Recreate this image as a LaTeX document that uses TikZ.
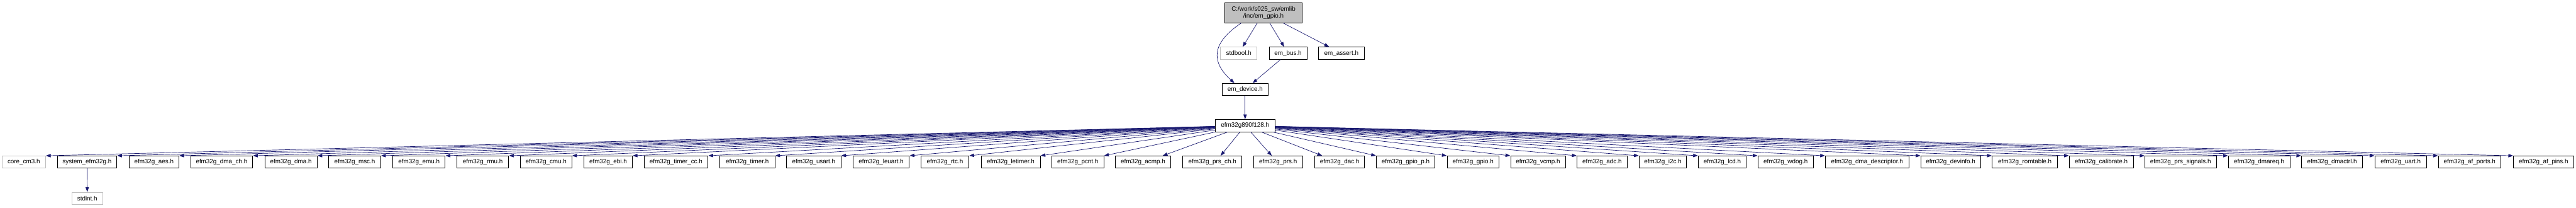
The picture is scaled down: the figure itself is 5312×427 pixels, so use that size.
\documentclass[tikz,border=0pt]{standalone}
\usepackage{fontspec}
\setmainfont{Liberation Sans}
\usepackage{tikz}
\usetikzlibrary{arrows.meta}
\definecolor{edgeblue}{RGB}{25,25,112}
\definecolor{boxgray}{RGB}{191,191,191}

\begin{document}
\begin{tikzpicture}[x=1pt, y=-1pt,
	file/.style={rectangle, draw=black, line width=1pt, inner sep=0pt, minimum height=25pt, font=\fontsize{12.8}{15}\selectfont},
	sysfile/.style={file, draw=boxgray},
	mainfile/.style={file, fill=boxgray, minimum height=41pt, align=center},
	edge/.style={draw=edgeblue, line width=0.9pt, -{Triangle[length=10pt,width=7pt]}}]

	\useasboundingbox (0,0) rectangle (5312,427);

	% vertices
	\node[mainfile, minimum width=159pt] (gpio) at (2605.5,26.5) {C:/work/s025\_sw/emlib\\/inc/em\_gpio.h};
	\node[sysfile, minimum width=75pt] (stdbool) at (2554.5,109.5) {stdbool.h};
	\node[file, minimum width=78pt] (embus) at (2656,109.5) {em\_bus.h};
	\node[file, minimum width=94pt] (emassert) at (2766,109.5) {em\_assert.h};
	\node[file, minimum width=95pt] (emdevice) at (2567.5,184) {em\_device.h};
	\node[file, minimum width=123pt] (hub) at (2567.5,258.5) {efm32g890f128.h};

	\node[sysfile, minimum width=90pt] (corecm) at (49,333.5) {core\_cm3.h};
	\node[file, minimum width=123pt] (system) at (179.5,333.5) {system\_efm32g.h};
	\node[sysfile, minimum width=64pt] (stdint) at (180,408) {stdint.h};
	\node[file, minimum width=103pt] (aes) at (317.5,333.5) {efm32g\_aes.h};
	\node[file, minimum width=128pt] (dmach) at (457,333.5) {efm32g\_dma\_ch.h};
	\node[file, minimum width=108pt] (dma) at (600,333.5) {efm32g\_dma.h};
	\node[file, minimum width=107pt] (msc) at (731.5,333.5) {efm32g\_msc.h};
	\node[file, minimum width=108pt] (emu) at (864,333.5) {efm32g\_emu.h};
	\node[file, minimum width=107pt] (rmu) at (995.5,333.5) {efm32g\_rmu.h};
	\node[file, minimum width=106pt] (cmu) at (1126,333.5) {efm32g\_cmu.h};
	\node[file, minimum width=100pt] (ebi) at (1254,333.5) {efm32g\_ebi.h};
	\node[file, minimum width=132pt] (timercc) at (1394,333.5) {efm32g\_timer\_cc.h};
	\node[file, minimum width=114pt] (timer) at (1541,333.5) {efm32g\_timer.h};
	\node[file, minimum width=112pt] (usart) at (1678,333.5) {efm32g\_usart.h};
	\node[file, minimum width=116pt] (leuart) at (1817,333.5) {efm32g\_leuart.h};
	\node[file, minimum width=99pt] (rtc) at (1948.5,333.5) {efm32g\_rtc.h};
	\node[file, minimum width=122pt] (letimer) at (2084,333.5) {efm32g\_letimer.h};
	\node[file, minimum width=107pt] (pcnt) at (2222.5,333.5) {efm32g\_pcnt.h};
	\node[file, minimum width=114pt] (acmp) at (2357,333.5) {efm32g\_acmp.h};
	\node[file, minimum width=122pt] (prsch) at (2500,333.5) {efm32g\_prs\_ch.h};
	\node[file, minimum width=101pt] (prs) at (2635.5,333.5) {efm32g\_prs.h};
	\node[file, minimum width=103pt] (dac) at (2762.5,333.5) {efm32g\_dac.h};
	\node[file, minimum width=121pt] (gpiop) at (2898.5,333.5) {efm32g\_gpio\_p.h};
	\node[file, minimum width=107pt] (gpioh) at (3037.5,333.5) {efm32g\_gpio.h};
	\node[file, minimum width=113pt] (vcmp) at (3171.5,333.5) {efm32g\_vcmp.h};
	\node[file, minimum width=103pt] (adc) at (3303.5,333.5) {efm32g\_adc.h};
	\node[file, minimum width=98pt] (itwoc) at (3429,333.5) {efm32g\_i2c.h};
	\node[file, minimum width=99pt] (lcd) at (3551.5,333.5) {efm32g\_lcd.h};
	\node[file, minimum width=114pt] (wdog) at (3682,333.5) {efm32g\_wdog.h};
	\node[file, minimum width=172pt] (dmadesc) at (3850,333.5) {efm32g\_dma\_descriptor.h};
	\node[file, minimum width=123pt] (devinfo) at (4022.5,333.5) {efm32g\_devinfo.h};
	\node[file, minimum width=135pt] (romtable) at (4175.5,333.5) {efm32g\_romtable.h};
	\node[file, minimum width=132pt] (calibrate) at (4333,333.5) {efm32g\_calibrate.h};
	\node[file, minimum width=147pt] (prssig) at (4496.5,333.5) {efm32g\_prs\_signals.h};
	\node[file, minimum width=127pt] (dmareq) at (4658.5,333.5) {efm32g\_dmareq.h};
	\node[file, minimum width=126pt] (dmactrl) at (4809,333.5) {efm32g\_dmactrl.h};
	\node[file, minimum width=107pt] (uart) at (4950.5,333.5) {efm32g\_uart.h};
	\node[file, minimum width=129pt] (afports) at (5092.5,333.5) {efm32g\_af\_ports.h};
	\node[file, minimum width=124pt] (afpins) at (5245,333.5) {efm32g\_af\_pins.h};

	% arrows
	\draw[edge] ([xshift=-46pt]gpio.south) .. controls +(-60,40) and +(-50,-45) .. ([xshift=-22pt]emdevice.north);
	\draw[edge] (gpio) -- (stdbool);
	\draw[edge] (gpio) -- (embus);
	\draw[edge] (gpio) -- (emassert);
	\draw[edge] (embus) -- (emdevice);
	\draw[edge] (emdevice) -- (hub);
	\draw[edge] (system) -- (stdint);

	\draw[edge] (hub) -- (corecm.north east);
	\draw[edge] (hub) -- (system.north east);
	\draw[edge] (hub) -- (aes.north east);
	\draw[edge] (hub) -- (dmach.north east);
	\draw[edge] (hub) -- (dma.north east);
	\draw[edge] (hub) -- (msc.north east);
	\draw[edge] (hub) -- (emu.north east);
	\draw[edge] (hub) -- (rmu.north east);
	\draw[edge] (hub) -- (cmu.north east);
	\draw[edge] (hub) -- (ebi.north east);
	\draw[edge] (hub) -- (timercc.north east);
	\draw[edge] (hub) -- (timer.north east);
	\draw[edge] (hub) -- (usart.north east);
	\draw[edge] (hub) -- (leuart.north east);
	\draw[edge] (hub) -- (rtc.north east);
	\draw[edge] (hub) -- (letimer.north east);
	\draw[edge] (hub) -- (pcnt.north east);
	\draw[edge] (hub) -- ([xshift=-17pt]acmp.north east);
	\draw[edge] (hub) -- ([xshift=17pt]prsch.north);
	\draw[edge] (hub) -- ([xshift=-13pt]prs.north);
	\draw[edge] (hub) -- ([xshift=16pt]dac.north west);
	\draw[edge] (hub) -- (gpiop.north west);
	\draw[edge] (hub) -- (gpioh.north west);
	\draw[edge] (hub) -- (vcmp.north west);
	\draw[edge] (hub) -- (adc.north west);
	\draw[edge] (hub) -- (itwoc.north west);
	\draw[edge] (hub) -- (lcd.north west);
	\draw[edge] (hub) -- (wdog.north west);
	\draw[edge] (hub) -- (dmadesc.north west);
	\draw[edge] (hub) -- (devinfo.north west);
	\draw[edge] (hub) -- (romtable.north west);
	\draw[edge] (hub) -- (calibrate.north west);
	\draw[edge] (hub) -- (prssig.north west);
	\draw[edge] (hub) -- (dmareq.north west);
	\draw[edge] (hub) -- (dmactrl.north west);
	\draw[edge] (hub) -- (uart.north west);
	\draw[edge] (hub) -- (afports.north west);
	\draw[edge] (hub) -- (afpins.north west);
\end{tikzpicture}
\end{document}
